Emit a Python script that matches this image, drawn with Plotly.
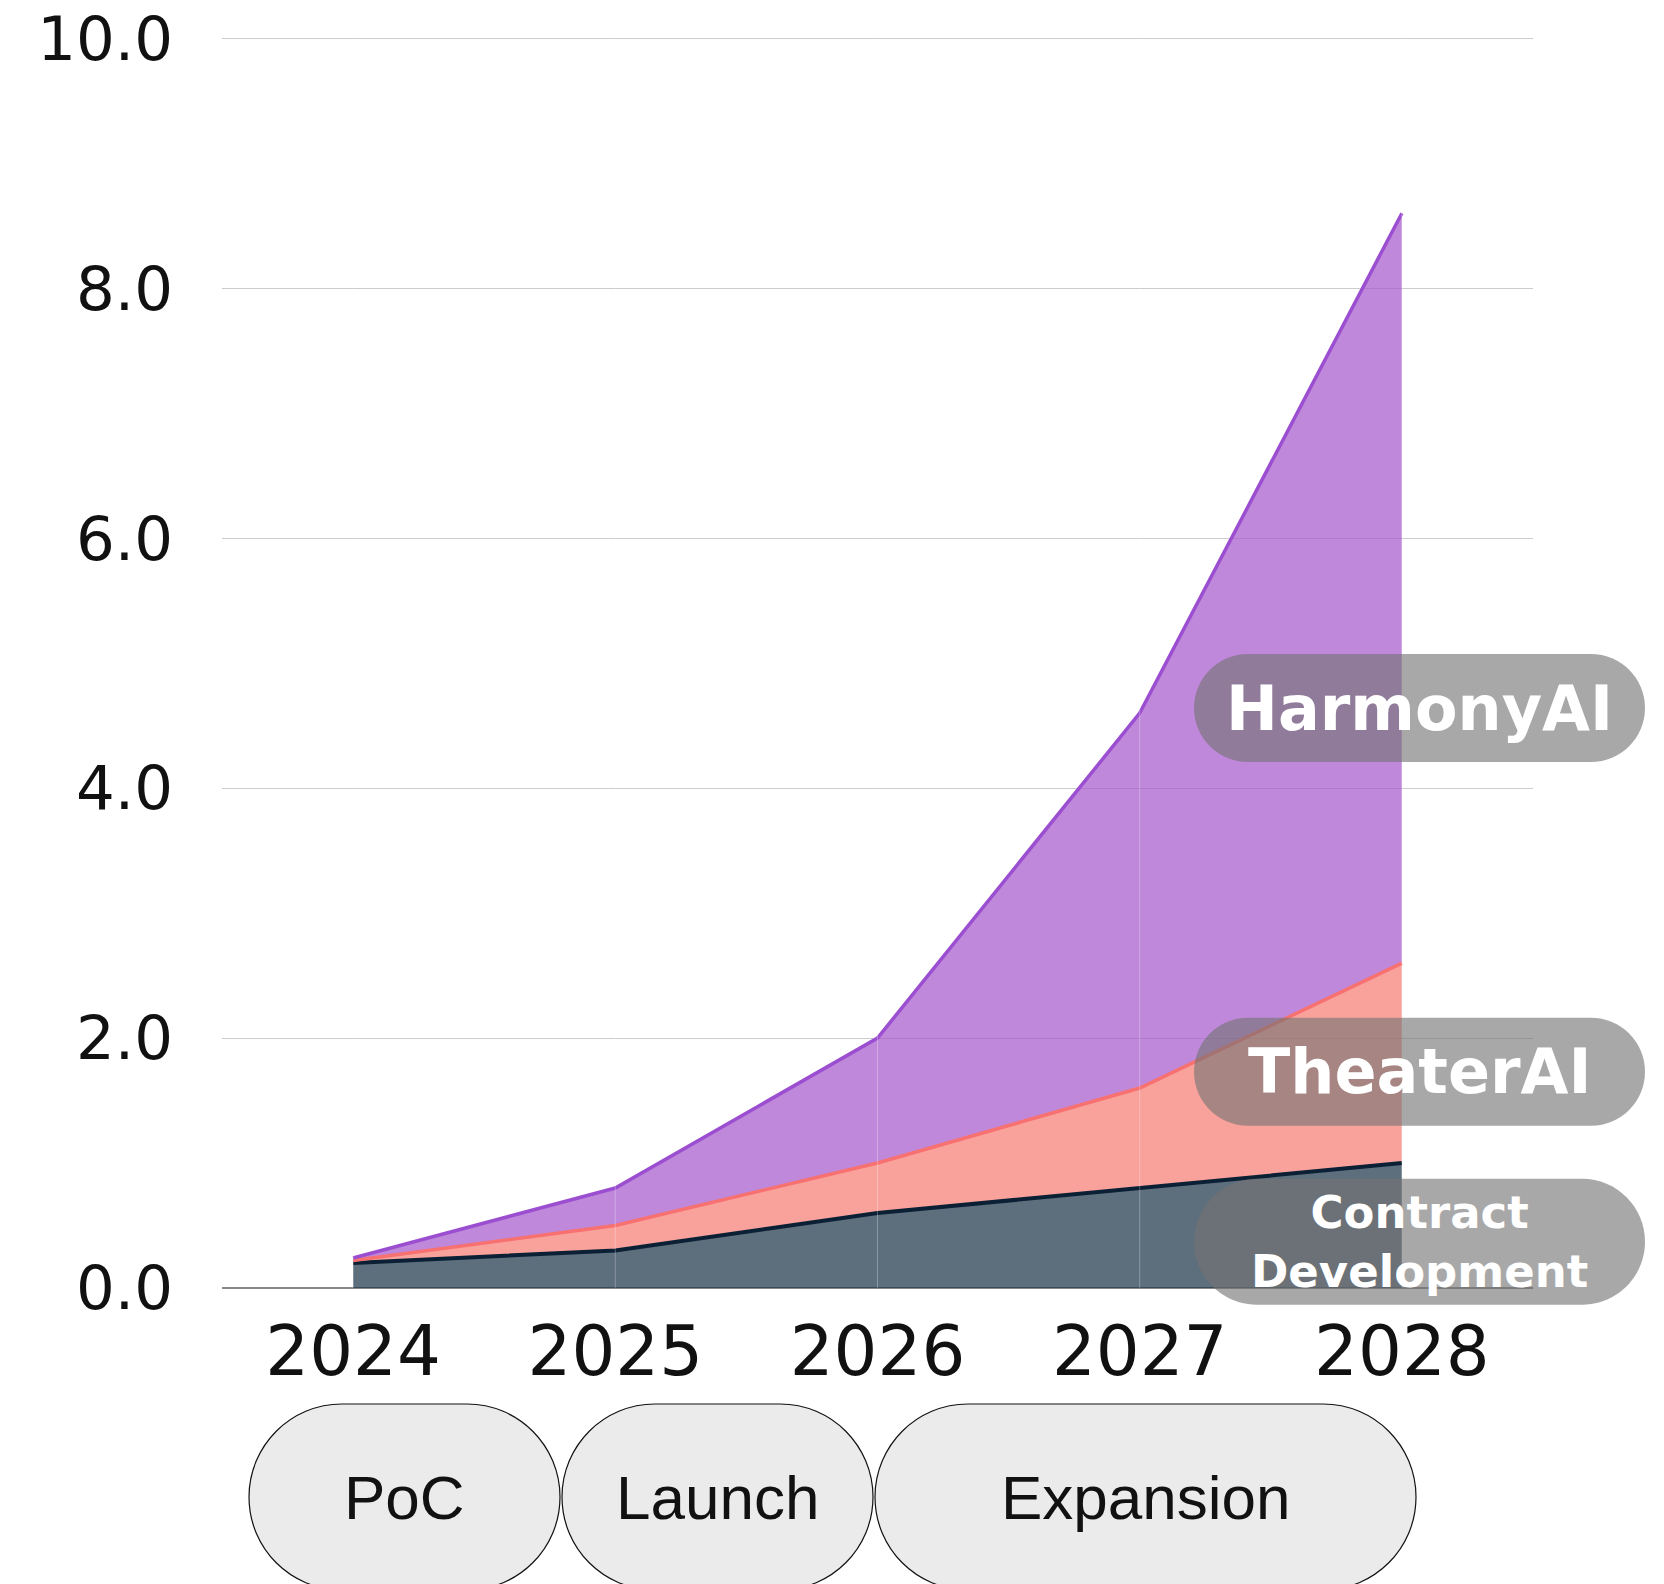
import plotly.graph_objects as go

# ---------------- data ----------------
years = [2024, 2025, 2026, 2027, 2028]
year_labels = ["2024", "2025", "2026", "2027", "2028"]
contract_dev = [0.2, 0.3, 0.6, 0.8, 1.0]
theater_ai = [0.02, 0.2, 0.4, 0.8, 1.6]
harmony_ai = [0.02, 0.3, 1.0, 3.0, 6.0]
series_names = ["Contract<br>Development", "TheaterAI", "HarmonyAI"]
label_y = [0.37, 1.73, 4.64]          # vertical positions of the series labels (data units)
y_ticks = [0, 2, 4, 6, 8, 10]
phases = ["PoC", "Launch", "Expansion"]
phase_widths = [311, 311, 541]        # px

# ---------------- layout constants ----------------
OFF = 8  # page body margin
W, H = 1664, 1584
ML, MT = 222 - OFF, 37 - OFF
MR, MB = W - (1533 - OFF), H - (1288 - OFF)
PW, PH = W - ML - MR, H - MT - MB
Y_MIN, Y_MAX = 0, 10.01

line_cols = ["#0b2035", "#f87171", "#9b4fd0"]
fill_cols = ["rgba(24,48,68,0.7)", "rgba(246,122,114,0.7)", "rgba(164,85,204,0.7)"]
line_w = [4, 3.5, 3.5]

fig = go.Figure()
for vals, name, lc, fc, lw in zip([contract_dev, theater_ai, harmony_ai], series_names,
                                  line_cols, fill_cols, line_w):
    fig.add_trace(go.Scatter(
        x=years, y=vals, name=name.replace("<br>", " "), mode="lines",
        stackgroup="one", line=dict(color=lc, width=lw), fillcolor=fc,
    ))

# faint vertical grid lines shown only over the filled areas
for yr in years:
    fig.add_shape(type="line", xref="x", yref="y", x0=yr, x1=yr, y0=0, y1=10,
                  line=dict(color="rgba(255,255,255,0.28)", width=1), layer="above")


def pill_path(w, h):
    r = h / 2.0
    k = 0.5523 * r
    x0, x1 = -w / 2.0, w / 2.0
    y0, y1 = -h / 2.0, h / 2.0
    return (f"M {x0 + r},{y0} L {x1 - r},{y0} "
            f"C {x1 - r + k},{y0} {x1},{-k} {x1},0 "
            f"C {x1},{k} {x1 - r + k},{y1} {x1 - r},{y1} "
            f"L {x0 + r},{y1} "
            f"C {x0 + r - k},{y1} {x0},{k} {x0},0 "
            f"C {x0},{-k} {x0 + r - k},{y0} {x0 + r},{y0} Z")


# series label pills
pill_cx = (1419.5 - OFF - ML) / PW
pill_w = 451
pill_h = [126, 108, 108]
pill_font = [45, 62, 62]
for name, yv, ph, fs in zip(series_names, label_y, pill_h, pill_font):
    py = (yv - Y_MIN) / (Y_MAX - Y_MIN)
    fig.add_shape(type="path", xref="paper", yref="paper", xsizemode="pixel", ysizemode="pixel",
                  xanchor=pill_cx, yanchor=py, path=pill_path(pill_w, ph),
                  fillcolor="rgba(116,116,116,0.625)", line=dict(width=0), layer="above")
    fig.add_annotation(x=pill_cx, y=py, xref="paper", yref="paper", text=name, showarrow=False,
                       font=dict(family="DejaVu Sans", size=fs, color="white", weight="bold"),
                       xanchor="center", yanchor="middle", align="center")

# phase pills below the chart
phase_left = 249 - OFF
gap = 2
phase_cy_px = 1497 - OFF
phase_h = 186
cy = (MT + PH - phase_cy_px) / PH
x_cursor = phase_left
for ph_name, pw in zip(phases, phase_widths):
    cx = (x_cursor + pw / 2.0 - ML) / PW
    fig.add_shape(type="path", xref="paper", yref="paper", xsizemode="pixel", ysizemode="pixel",
                  xanchor=cx, yanchor=cy, path=pill_path(pw, phase_h),
                  fillcolor="#ebebeb", line=dict(color="#111111", width=1.2), layer="above")
    fig.add_annotation(x=cx, y=cy, xref="paper", yref="paper", text=ph_name, showarrow=False,
                       font=dict(family="Liberation Sans", size=62, color="#111111"),
                       xanchor="center", yanchor="middle")
    x_cursor += pw + gap

fig.update_layout(
    width=W, height=H,
    margin=dict(l=ML, r=MR, t=MT, b=MB, pad=0, autoexpand=False),
    paper_bgcolor="white", plot_bgcolor="white",
    showlegend=False,
    xaxis=dict(range=[2023.5, 2028.5], tickvals=years, ticktext=year_labels,
               showgrid=False, zeroline=False, showline=False, ticks="",
               automargin=False, ticklabeloverflow="allow",
               tickfont=dict(family="DejaVu Sans", size=69, color="#111111"),
               ticklabelstandoff=17),
    yaxis=dict(range=[Y_MIN, Y_MAX], tickvals=y_ticks, tickformat=".1f",
               showgrid=True, gridcolor="#cccccc", gridwidth=1,
               zeroline=True, zerolinecolor="#888888", zerolinewidth=1.5,
               showline=False, ticks="", automargin=False, ticklabeloverflow="allow",
               tickfont=dict(family="DejaVu Sans", size=61, color="#111111"),
               ticklabelstandoff=48),
)

fig.write_html("out.html")
